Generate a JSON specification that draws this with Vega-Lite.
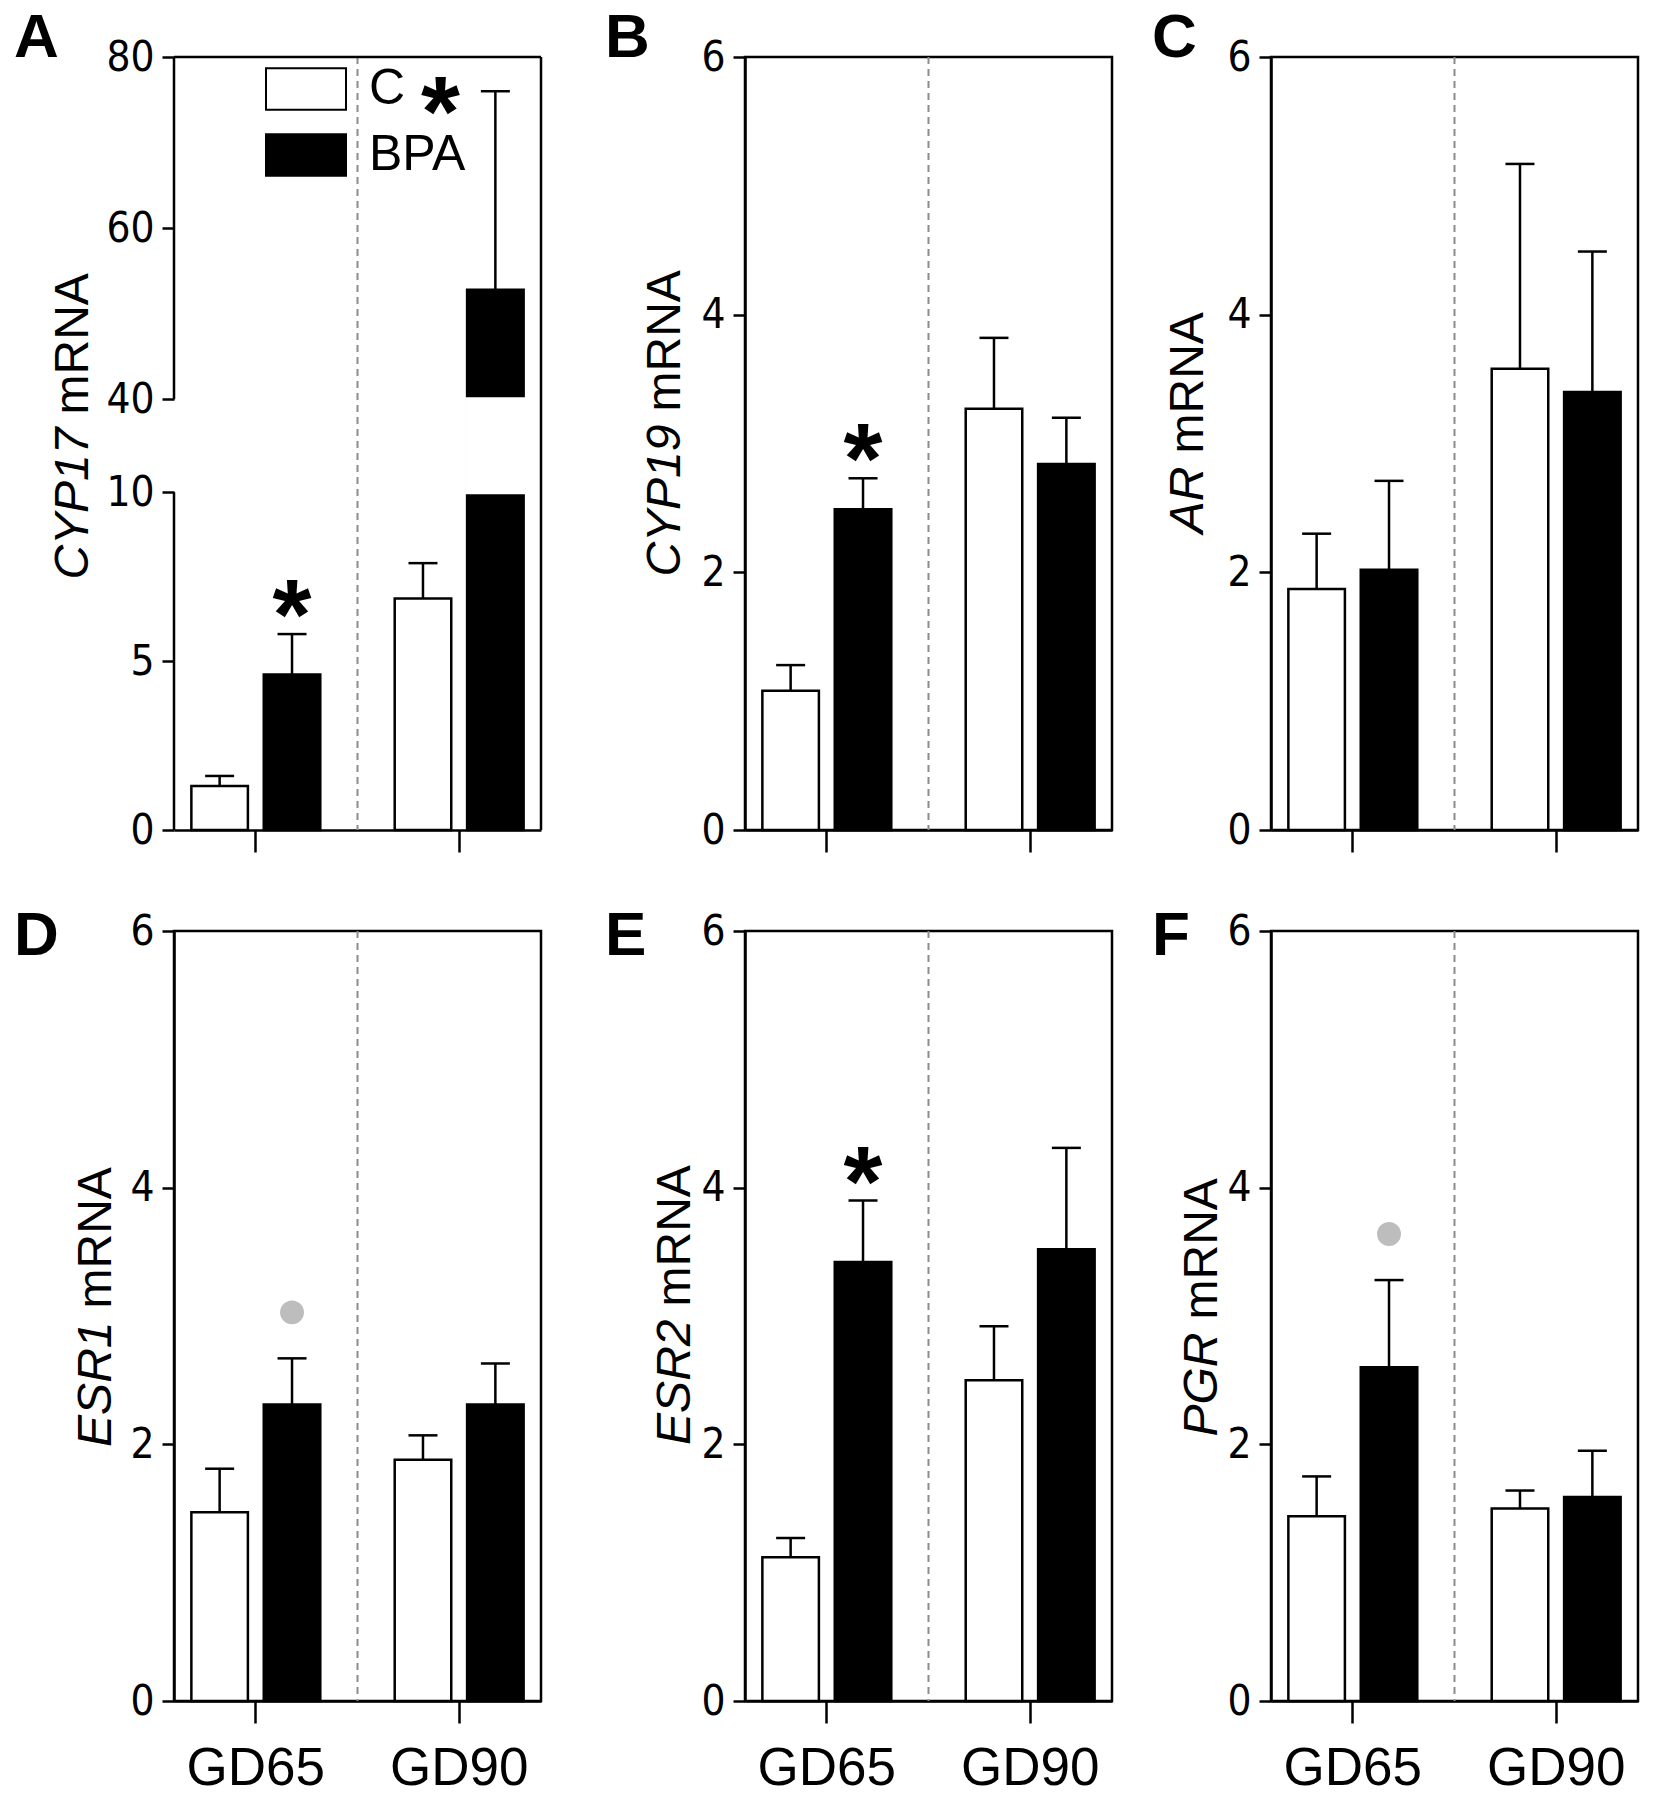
{
  "$schema": "https://vega.github.io/schema/vega-lite/v6.json",
  "background": "white",
  "padding": {"left": 12, "top": 5, "right": 0, "bottom": 0},
  "data": {"values": [
    {"panel": "A", "group": "GD65", "treatment": "C", "mean": 1.3, "upper": 1.6, "sig": ""},
    {"panel": "A", "group": "GD65", "treatment": "BPA", "mean": 4.6, "upper": 5.8, "sig": "*"},
    {"panel": "A", "group": "GD90", "treatment": "C", "mean": 6.85, "upper": 7.9, "sig": ""},
    {"panel": "A", "group": "GD90", "treatment": "BPA", "mean": 52.8, "upper": 76, "sig": "*"},
    {"panel": "B", "group": "GD65", "treatment": "C", "mean": 1.08, "upper": 1.28, "sig": ""},
    {"panel": "B", "group": "GD65", "treatment": "BPA", "mean": 2.49, "upper": 2.73, "sig": "*"},
    {"panel": "B", "group": "GD90", "treatment": "C", "mean": 3.27, "upper": 3.82, "sig": ""},
    {"panel": "B", "group": "GD90", "treatment": "BPA", "mean": 2.84, "upper": 3.2, "sig": ""},
    {"panel": "C", "group": "GD65", "treatment": "C", "mean": 1.87, "upper": 2.3, "sig": ""},
    {"panel": "C", "group": "GD65", "treatment": "BPA", "mean": 2.02, "upper": 2.71, "sig": ""},
    {"panel": "C", "group": "GD90", "treatment": "C", "mean": 3.58, "upper": 5.17, "sig": ""},
    {"panel": "C", "group": "GD90", "treatment": "BPA", "mean": 3.4, "upper": 4.49, "sig": ""},
    {"panel": "D", "group": "GD65", "treatment": "C", "mean": 1.47, "upper": 1.81, "sig": ""},
    {"panel": "D", "group": "GD65", "treatment": "BPA", "mean": 2.31, "upper": 2.67, "sig": "dot"},
    {"panel": "D", "group": "GD90", "treatment": "C", "mean": 1.88, "upper": 2.07, "sig": ""},
    {"panel": "D", "group": "GD90", "treatment": "BPA", "mean": 2.31, "upper": 2.63, "sig": ""},
    {"panel": "E", "group": "GD65", "treatment": "C", "mean": 1.12, "upper": 1.27, "sig": ""},
    {"panel": "E", "group": "GD65", "treatment": "BPA", "mean": 3.42, "upper": 3.9, "sig": "*"},
    {"panel": "E", "group": "GD90", "treatment": "C", "mean": 2.5, "upper": 2.92, "sig": ""},
    {"panel": "E", "group": "GD90", "treatment": "BPA", "mean": 3.52, "upper": 4.31, "sig": ""},
    {"panel": "F", "group": "GD65", "treatment": "C", "mean": 1.44, "upper": 1.75, "sig": ""},
    {"panel": "F", "group": "GD65", "treatment": "BPA", "mean": 2.6, "upper": 3.28, "sig": "dot"},
    {"panel": "F", "group": "GD90", "treatment": "C", "mean": 1.5, "upper": 1.64, "sig": ""},
    {"panel": "F", "group": "GD90", "treatment": "BPA", "mean": 1.59, "upper": 1.95, "sig": ""}
  ]},
  "config": {
    "view": {"stroke": "black", "strokeWidth": 2.5},
    "axis": {"grid": false, "domainColor": "black", "domainWidth": 2.5, "tickColor": "black", "tickWidth": 2.5, "labelColor": "black", "titleColor": "black", "titleFont": "Liberation Sans", "titleFontSize": 48, "titleFontWeight": "normal"},
    "axisY": {"tickSize": 12, "labelPadding": 8, "labelFont": "Liberation Sans Narrow, DejaVu Sans Condensed, Liberation Sans", "labelFontSize": 42},
    "axisX": {"tickSize": 22, "labelPadding": 19, "labelFont": "Liberation Sans", "labelFontSize": 53, "labelAngle": 0},
    "title": {"font": "Liberation Sans", "fontSize": 62, "fontWeight": "bold", "anchor": "start", "frame": "group", "color": "black", "offset": 0, "baseline": "alphabetic"}
  },
  "resolve": {"scale": {"fill": "independent"}, "legend": {"fill": "independent"}},
  "spacing": 60,
  "hconcat": [
    {
      "bounds": "flush",
      "spacing": 101,
      "resolve": {"scale": {"fill": "independent"}, "legend": {"fill": "independent"}},
      "vconcat": [
        {
          "width": 367, "height": 773,
          "title": {"text": "A", "dx": -160, "dy": 38},
          "view": {"stroke": null},
          "layer": [
            {"data": {"values": [{}]}, "mark": {"type": "rule", "color": "#8c8c8c", "strokeWidth": 2, "strokeDash": [7, 5]}, "encoding": {"x": {"datum": "GD65", "type": "nominal", "bandPosition": 1.2886, "scale": {"type": "band", "domain": ["GD65", "GD90"], "paddingInner": 0.366, "paddingOuter": 0.0854}, "axis": null}}},
            {"data": {"values": [{}]}, "mark": {"type": "rule", "color": "black", "strokeWidth": 2.5}, "encoding": {"x": {"datum": "GD90", "type": "nominal", "bandPosition": 1.1347, "scale": {"type": "band", "domain": ["GD65", "GD90"], "paddingInner": 0.366, "paddingOuter": 0.0854}, "axis": null}}},
            {"data": {"values": [{}]}, "mark": {"type": "rule", "color": "black", "strokeWidth": 2.5}, "encoding": {"x": {"datum": "GD65", "type": "nominal", "bandPosition": -0.1347, "scale": {"type": "band", "domain": ["GD65", "GD90"], "paddingInner": 0.366, "paddingOuter": 0.0854}, "axis": null}, "y": {"datum": 0, "type": "quantitative", "scale": {"type": "linear", "domain": [0, 10, 40, 80], "range": [773, 435.2, 342.3, 0], "nice": false, "zero": false}, "axis": null}, "y2": {"datum": 10}}},
            {"data": {"values": [{}]}, "mark": {"type": "rule", "color": "black", "strokeWidth": 2.5}, "encoding": {"x": {"datum": "GD65", "type": "nominal", "bandPosition": -0.1347, "scale": {"type": "band", "domain": ["GD65", "GD90"], "paddingInner": 0.366, "paddingOuter": 0.0854}, "axis": null}, "y": {"datum": 40, "type": "quantitative", "scale": {"type": "linear", "domain": [0, 10, 40, 80], "range": [773, 435.2, 342.3, 0], "nice": false, "zero": false}, "axis": null}, "y2": {"datum": 80}}},
            {"data": {"values": [{}]}, "mark": {"type": "rule", "color": "black", "strokeWidth": 2.5}, "encoding": {"y": {"datum": 80, "type": "quantitative", "scale": {"type": "linear", "domain": [0, 10, 40, 80], "range": [773, 435.2, 342.3, 0], "nice": false, "zero": false}, "axis": null}}},
            {"transform": [{"filter": "datum.panel === 'A'"}], "mark": {"type": "bar", "stroke": "black", "strokeWidth": 2.5},
             "encoding": {
               "x": {"field": "group", "type": "nominal", "scale": {"type": "band", "domain": ["GD65", "GD90"], "paddingInner": 0.366, "paddingOuter": 0.0854}, "axis": {"title": null, "labels": false}},
               "xOffset": {"field": "treatment", "type": "nominal", "scale": {"domain": ["C", "BPA"], "paddingInner": 0.219, "paddingOuter": 0}},
               "y": {"field": "mean", "type": "quantitative", "scale": {"type": "linear", "domain": [0, 10, 40, 80], "range": [773, 435.2, 342.3, 0], "nice": false, "zero": false}, "axis": null},
               "fill": {"field": "treatment", "type": "nominal", "scale": {"domain": ["C", "BPA"], "range": ["white", "black"]}, "legend": {"orient": "none", "legendX": 91, "legendY": -9, "title": null, "symbolType": "M-1,-0.52H1V0.52H-1Z", "symbolSize": 6400, "symbolStrokeColor": "black", "symbolStrokeWidth": 2, "labelFont": "Liberation Sans", "labelFontSize": 50, "labelColor": "black", "labelOffset": 22, "rowPadding": -17, "padding": 0}}
             }},
            {"transform": [{"filter": "datum.panel === 'A' && datum.mean > 10"}], "mark": {"type": "bar", "fill": "white", "stroke": "white", "strokeWidth": 4},
             "encoding": {
               "x": {"field": "group", "type": "nominal", "scale": {"type": "band", "domain": ["GD65", "GD90"], "paddingInner": 0.366, "paddingOuter": 0.0854}, "axis": null},
               "xOffset": {"field": "treatment", "type": "nominal", "scale": {"domain": ["C", "BPA"], "paddingInner": 0.219, "paddingOuter": 0}},
               "y": {"datum": 40, "type": "quantitative", "scale": {"type": "linear", "domain": [0, 10, 40, 80], "range": [773, 435.2, 342.3, 0], "nice": false, "zero": false}, "axis": null},
               "y2": {"datum": 10}
             }},
            {"transform": [{"filter": "datum.panel === 'A'"}], "mark": {"type": "rule", "color": "black", "strokeWidth": 2.5},
             "encoding": {
               "x": {"field": "group", "type": "nominal", "scale": {"type": "band", "domain": ["GD65", "GD90"], "paddingInner": 0.366, "paddingOuter": 0.0854}, "axis": null},
               "xOffset": {"field": "treatment", "type": "nominal", "scale": {"domain": ["C", "BPA"], "paddingInner": 0.219, "paddingOuter": 0}},
               "y": {"field": "mean", "type": "quantitative", "scale": {"type": "linear", "domain": [0, 10, 40, 80], "range": [773, 435.2, 342.3, 0], "nice": false, "zero": false}, "axis": null},
               "y2": {"field": "upper"}
             }},
            {"transform": [{"filter": "datum.panel === 'A'"}], "mark": {"type": "point", "shape": "M-1,0L1,0", "size": 841, "stroke": "black", "strokeWidth": 2.5, "filled": false, "opacity": 1},
             "encoding": {
               "x": {"field": "group", "type": "nominal", "scale": {"type": "band", "domain": ["GD65", "GD90"], "paddingInner": 0.366, "paddingOuter": 0.0854}, "axis": null},
               "xOffset": {"field": "treatment", "type": "nominal", "scale": {"domain": ["C", "BPA"], "paddingInner": 0.219, "paddingOuter": 0}},
               "y": {"field": "upper", "type": "quantitative", "scale": {"type": "linear", "domain": [0, 10, 40, 80], "range": [773, 435.2, 342.3, 0], "nice": false, "zero": false}, "axis": null}
             }},
            {"transform": [{"filter": "datum.panel === 'A' && datum.sig === '*' && datum.group === 'GD65'"}], "mark": {"type": "text", "text": "*", "font": "Liberation Sans", "fontWeight": "bold", "fontSize": 100, "baseline": "alphabetic", "align": "center", "dy": 15, "color": "black"},
             "encoding": {
               "x": {"field": "group", "type": "nominal", "scale": {"type": "band", "domain": ["GD65", "GD90"], "paddingInner": 0.366, "paddingOuter": 0.0854}, "axis": null},
               "xOffset": {"field": "treatment", "type": "nominal", "scale": {"domain": ["C", "BPA"], "paddingInner": 0.219, "paddingOuter": 0}},
               "y": {"field": "upper", "type": "quantitative", "scale": {"type": "linear", "domain": [0, 10, 40, 80], "range": [773, 435.2, 342.3, 0], "nice": false, "zero": false}, "axis": null}
             }},
            {"transform": [{"filter": "datum.panel === 'A' && datum.sig === '*' && datum.group === 'GD90'"}], "mark": {"type": "text", "text": "*", "font": "Liberation Sans", "fontWeight": "bold", "fontSize": 100, "baseline": "alphabetic", "align": "center", "dy": 55, "dx": -55, "color": "black"},
             "encoding": {
               "x": {"field": "group", "type": "nominal", "scale": {"type": "band", "domain": ["GD65", "GD90"], "paddingInner": 0.366, "paddingOuter": 0.0854}, "axis": null},
               "xOffset": {"field": "treatment", "type": "nominal", "scale": {"domain": ["C", "BPA"], "paddingInner": 0.219, "paddingOuter": 0}},
               "y": {"field": "upper", "type": "quantitative", "scale": {"type": "linear", "domain": [0, 10, 40, 80], "range": [773, 435.2, 342.3, 0], "nice": false, "zero": false}, "axis": null}
             }},
            {"data": {"values": [{}]}, "mark": {"type": "point", "opacity": 0}, "encoding": {"x": {"datum": "GD65", "type": "nominal", "scale": {"type": "band", "domain": ["GD65", "GD90"], "paddingInner": 0.366, "paddingOuter": 0.0854}, "axis": null}, "y": {"datum": 0, "type": "quantitative", "scale": {"type": "linear", "domain": [0, 10, 40, 80], "range": [773, 435.2, 342.3, 0], "nice": false, "zero": false}, "axis": {"orient": "left", "values": [0, 5, 10, 40, 60, 80], "domain": false, "title": "CYP17", "titleFontStyle": "italic", "titleAngle": 270, "titleAlign": "right", "titleBaseline": "alphabetic", "titleX": -87, "titleY": 370}}}},
            {"data": {"values": [{}]}, "mark": {"type": "point", "opacity": 0}, "encoding": {"x": {"datum": "GD65", "type": "nominal", "scale": {"type": "band", "domain": ["GD65", "GD90"], "paddingInner": 0.366, "paddingOuter": 0.0854}, "axis": null}, "y": {"datum": 0, "type": "quantitative", "scale": {"type": "linear", "domain": [0, 10, 40, 80], "range": [773, 435.2, 342.3, 0], "nice": false, "zero": false}, "axis": {"orient": "right", "labels": false, "ticks": false, "domain": false, "title": "mRNA", "titleFontStyle": "normal", "titleAngle": 270, "titleAlign": "left", "titleBaseline": "alphabetic", "titleX": -454, "titleY": 357}}}}
          ],
          "resolve": {"axis": {"x": "independent", "y": "independent"}}
        },
        {
          "width": 367, "height": 770,
          "title": {"text": "D", "dx": -160, "dy": 62},
          "layer": [
            {"data": {"values": [{}]}, "mark": {"type": "rule", "color": "#8c8c8c", "strokeWidth": 2, "strokeDash": [7, 5]}, "encoding": {"x": {"datum": "GD65", "type": "nominal", "bandPosition": 1.2886, "scale": {"type": "band", "domain": ["GD65", "GD90"], "paddingInner": 0.366, "paddingOuter": 0.0854}, "axis": null}}},
            {"transform": [{"filter": "datum.panel === 'D'"}], "mark": {"type": "bar", "stroke": "black", "strokeWidth": 2.5},
             "encoding": {
               "x": {"field": "group", "type": "nominal", "scale": {"type": "band", "domain": ["GD65", "GD90"], "paddingInner": 0.366, "paddingOuter": 0.0854}, "axis": {"title": null, "labels": true}},
               "xOffset": {"field": "treatment", "type": "nominal", "scale": {"domain": ["C", "BPA"], "paddingInner": 0.219, "paddingOuter": 0}},
               "y": {"field": "mean", "type": "quantitative", "scale": {"domain": [0, 6], "nice": false, "zero": true}, "axis": null},
               "fill": {"field": "treatment", "type": "nominal", "scale": {"domain": ["C", "BPA"], "range": ["white", "black"]}, "legend": null}
             }},
            {"transform": [{"filter": "datum.panel === 'D'"}], "mark": {"type": "rule", "color": "black", "strokeWidth": 2.5},
             "encoding": {
               "x": {"field": "group", "type": "nominal", "scale": {"type": "band", "domain": ["GD65", "GD90"], "paddingInner": 0.366, "paddingOuter": 0.0854}, "axis": null},
               "xOffset": {"field": "treatment", "type": "nominal", "scale": {"domain": ["C", "BPA"], "paddingInner": 0.219, "paddingOuter": 0}},
               "y": {"field": "mean", "type": "quantitative", "scale": {"domain": [0, 6], "nice": false, "zero": true}, "axis": null},
               "y2": {"field": "upper"}
             }},
            {"transform": [{"filter": "datum.panel === 'D'"}], "mark": {"type": "point", "shape": "M-1,0L1,0", "size": 841, "stroke": "black", "strokeWidth": 2.5, "filled": false, "opacity": 1},
             "encoding": {
               "x": {"field": "group", "type": "nominal", "scale": {"type": "band", "domain": ["GD65", "GD90"], "paddingInner": 0.366, "paddingOuter": 0.0854}, "axis": null},
               "xOffset": {"field": "treatment", "type": "nominal", "scale": {"domain": ["C", "BPA"], "paddingInner": 0.219, "paddingOuter": 0}},
               "y": {"field": "upper", "type": "quantitative", "scale": {"domain": [0, 6], "nice": false, "zero": true}, "axis": null}
             }},
            {"transform": [{"filter": "datum.panel === 'D' && datum.sig === 'dot'"}], "mark": {"type": "point", "shape": "circle", "filled": true, "color": "#bdbdbd", "size": 573, "opacity": 1, "yOffset": -46},
             "encoding": {
               "x": {"field": "group", "type": "nominal", "scale": {"type": "band", "domain": ["GD65", "GD90"], "paddingInner": 0.366, "paddingOuter": 0.0854}, "axis": null},
               "xOffset": {"field": "treatment", "type": "nominal", "scale": {"domain": ["C", "BPA"], "paddingInner": 0.219, "paddingOuter": 0}},
               "y": {"field": "upper", "type": "quantitative", "scale": {"domain": [0, 6], "nice": false, "zero": true}, "axis": null}
             }},
            {"data": {"values": [{}]}, "mark": {"type": "point", "opacity": 0}, "encoding": {"x": {"datum": "GD65", "type": "nominal", "scale": {"type": "band", "domain": ["GD65", "GD90"], "paddingInner": 0.366, "paddingOuter": 0.0854}, "axis": null}, "y": {"datum": 0, "type": "quantitative", "scale": {"domain": [0, 6], "nice": false, "zero": true}, "axis": {"orient": "left", "values": [0, 2, 4, 6], "title": "ESR1", "titleFontStyle": "italic", "titleAngle": 270, "titleAlign": "right", "titleBaseline": "alphabetic", "titleX": -64, "titleY": 390}}}},
            {"data": {"values": [{}]}, "mark": {"type": "point", "opacity": 0}, "encoding": {"x": {"datum": "GD65", "type": "nominal", "scale": {"type": "band", "domain": ["GD65", "GD90"], "paddingInner": 0.366, "paddingOuter": 0.0854}, "axis": null}, "y": {"datum": 0, "type": "quantitative", "scale": {"domain": [0, 6], "nice": false, "zero": true}, "axis": {"orient": "right", "labels": false, "ticks": false, "domain": false, "title": "mRNA", "titleFontStyle": "normal", "titleAngle": 270, "titleAlign": "left", "titleBaseline": "alphabetic", "titleX": -431, "titleY": 377}}}}
          ],
          "resolve": {"axis": {"x": "independent", "y": "independent"}}
        }
      ]
    },
    {
      "spacing": 36,
      "resolve": {"scale": {"fill": "independent"}, "legend": {"fill": "independent"}},
      "hconcat": [
        {
          "bounds": "flush",
          "spacing": 101,
          "resolve": {"scale": {"fill": "independent"}, "legend": {"fill": "independent"}},
          "vconcat": [
            {
              "width": 367, "height": 773,
              "title": {"text": "B", "dx": -140, "dy": 38},
              "layer": [
                {"data": {"values": [{}]}, "mark": {"type": "rule", "color": "#8c8c8c", "strokeWidth": 2, "strokeDash": [7, 5]}, "encoding": {"x": {"datum": "GD65", "type": "nominal", "bandPosition": 1.2886, "scale": {"type": "band", "domain": ["GD65", "GD90"], "paddingInner": 0.366, "paddingOuter": 0.0854}, "axis": null}}},
                {"transform": [{"filter": "datum.panel === 'B'"}], "mark": {"type": "bar", "stroke": "black", "strokeWidth": 2.5},
                 "encoding": {
                   "x": {"field": "group", "type": "nominal", "scale": {"type": "band", "domain": ["GD65", "GD90"], "paddingInner": 0.366, "paddingOuter": 0.0854}, "axis": {"title": null, "labels": false}},
                   "xOffset": {"field": "treatment", "type": "nominal", "scale": {"domain": ["C", "BPA"], "paddingInner": 0.219, "paddingOuter": 0}},
                   "y": {"field": "mean", "type": "quantitative", "scale": {"domain": [0, 6], "nice": false, "zero": true}, "axis": null},
                   "fill": {"field": "treatment", "type": "nominal", "scale": {"domain": ["C", "BPA"], "range": ["white", "black"]}, "legend": null}
                 }},
                {"transform": [{"filter": "datum.panel === 'B'"}], "mark": {"type": "rule", "color": "black", "strokeWidth": 2.5},
                 "encoding": {
                   "x": {"field": "group", "type": "nominal", "scale": {"type": "band", "domain": ["GD65", "GD90"], "paddingInner": 0.366, "paddingOuter": 0.0854}, "axis": null},
                   "xOffset": {"field": "treatment", "type": "nominal", "scale": {"domain": ["C", "BPA"], "paddingInner": 0.219, "paddingOuter": 0}},
                   "y": {"field": "mean", "type": "quantitative", "scale": {"domain": [0, 6], "nice": false, "zero": true}, "axis": null},
                   "y2": {"field": "upper"}
                 }},
                {"transform": [{"filter": "datum.panel === 'B'"}], "mark": {"type": "point", "shape": "M-1,0L1,0", "size": 841, "stroke": "black", "strokeWidth": 2.5, "filled": false, "opacity": 1},
                 "encoding": {
                   "x": {"field": "group", "type": "nominal", "scale": {"type": "band", "domain": ["GD65", "GD90"], "paddingInner": 0.366, "paddingOuter": 0.0854}, "axis": null},
                   "xOffset": {"field": "treatment", "type": "nominal", "scale": {"domain": ["C", "BPA"], "paddingInner": 0.219, "paddingOuter": 0}},
                   "y": {"field": "upper", "type": "quantitative", "scale": {"domain": [0, 6], "nice": false, "zero": true}, "axis": null}
                 }},
                {"transform": [{"filter": "datum.panel === 'B' && datum.sig === '*'"}], "mark": {"type": "text", "text": "*", "font": "Liberation Sans", "fontWeight": "bold", "fontSize": 100, "baseline": "alphabetic", "align": "center", "dy": 15, "color": "black"},
                 "encoding": {
                   "x": {"field": "group", "type": "nominal", "scale": {"type": "band", "domain": ["GD65", "GD90"], "paddingInner": 0.366, "paddingOuter": 0.0854}, "axis": null},
                   "xOffset": {"field": "treatment", "type": "nominal", "scale": {"domain": ["C", "BPA"], "paddingInner": 0.219, "paddingOuter": 0}},
                   "y": {"field": "upper", "type": "quantitative", "scale": {"domain": [0, 6], "nice": false, "zero": true}, "axis": null}
                 }},
                {"data": {"values": [{}]}, "mark": {"type": "point", "opacity": 0}, "encoding": {"x": {"datum": "GD65", "type": "nominal", "scale": {"type": "band", "domain": ["GD65", "GD90"], "paddingInner": 0.366, "paddingOuter": 0.0854}, "axis": null}, "y": {"datum": 0, "type": "quantitative", "scale": {"domain": [0, 6], "nice": false, "zero": true}, "axis": {"orient": "left", "values": [0, 2, 4, 6], "title": "CYP19", "titleFontStyle": "italic", "titleAngle": 270, "titleAlign": "right", "titleBaseline": "alphabetic", "titleX": -66, "titleY": 367}}}},
                {"data": {"values": [{}]}, "mark": {"type": "point", "opacity": 0}, "encoding": {"x": {"datum": "GD65", "type": "nominal", "scale": {"type": "band", "domain": ["GD65", "GD90"], "paddingInner": 0.366, "paddingOuter": 0.0854}, "axis": null}, "y": {"datum": 0, "type": "quantitative", "scale": {"domain": [0, 6], "nice": false, "zero": true}, "axis": {"orient": "right", "labels": false, "ticks": false, "domain": false, "title": "mRNA", "titleFontStyle": "normal", "titleAngle": 270, "titleAlign": "left", "titleBaseline": "alphabetic", "titleX": -433, "titleY": 354}}}}
              ],
              "resolve": {"axis": {"x": "independent", "y": "independent"}}
            },
            {
              "width": 367, "height": 770,
              "title": {"text": "E", "dx": -140, "dy": 62},
              "layer": [
                {"data": {"values": [{}]}, "mark": {"type": "rule", "color": "#8c8c8c", "strokeWidth": 2, "strokeDash": [7, 5]}, "encoding": {"x": {"datum": "GD65", "type": "nominal", "bandPosition": 1.2886, "scale": {"type": "band", "domain": ["GD65", "GD90"], "paddingInner": 0.366, "paddingOuter": 0.0854}, "axis": null}}},
                {"transform": [{"filter": "datum.panel === 'E'"}], "mark": {"type": "bar", "stroke": "black", "strokeWidth": 2.5},
                 "encoding": {
                   "x": {"field": "group", "type": "nominal", "scale": {"type": "band", "domain": ["GD65", "GD90"], "paddingInner": 0.366, "paddingOuter": 0.0854}, "axis": {"title": null, "labels": true}},
                   "xOffset": {"field": "treatment", "type": "nominal", "scale": {"domain": ["C", "BPA"], "paddingInner": 0.219, "paddingOuter": 0}},
                   "y": {"field": "mean", "type": "quantitative", "scale": {"domain": [0, 6], "nice": false, "zero": true}, "axis": null},
                   "fill": {"field": "treatment", "type": "nominal", "scale": {"domain": ["C", "BPA"], "range": ["white", "black"]}, "legend": null}
                 }},
                {"transform": [{"filter": "datum.panel === 'E'"}], "mark": {"type": "rule", "color": "black", "strokeWidth": 2.5},
                 "encoding": {
                   "x": {"field": "group", "type": "nominal", "scale": {"type": "band", "domain": ["GD65", "GD90"], "paddingInner": 0.366, "paddingOuter": 0.0854}, "axis": null},
                   "xOffset": {"field": "treatment", "type": "nominal", "scale": {"domain": ["C", "BPA"], "paddingInner": 0.219, "paddingOuter": 0}},
                   "y": {"field": "mean", "type": "quantitative", "scale": {"domain": [0, 6], "nice": false, "zero": true}, "axis": null},
                   "y2": {"field": "upper"}
                 }},
                {"transform": [{"filter": "datum.panel === 'E'"}], "mark": {"type": "point", "shape": "M-1,0L1,0", "size": 841, "stroke": "black", "strokeWidth": 2.5, "filled": false, "opacity": 1},
                 "encoding": {
                   "x": {"field": "group", "type": "nominal", "scale": {"type": "band", "domain": ["GD65", "GD90"], "paddingInner": 0.366, "paddingOuter": 0.0854}, "axis": null},
                   "xOffset": {"field": "treatment", "type": "nominal", "scale": {"domain": ["C", "BPA"], "paddingInner": 0.219, "paddingOuter": 0}},
                   "y": {"field": "upper", "type": "quantitative", "scale": {"domain": [0, 6], "nice": false, "zero": true}, "axis": null}
                 }},
                {"transform": [{"filter": "datum.panel === 'E' && datum.sig === '*'"}], "mark": {"type": "text", "text": "*", "font": "Liberation Sans", "fontWeight": "bold", "fontSize": 100, "baseline": "alphabetic", "align": "center", "dy": 15, "color": "black"},
                 "encoding": {
                   "x": {"field": "group", "type": "nominal", "scale": {"type": "band", "domain": ["GD65", "GD90"], "paddingInner": 0.366, "paddingOuter": 0.0854}, "axis": null},
                   "xOffset": {"field": "treatment", "type": "nominal", "scale": {"domain": ["C", "BPA"], "paddingInner": 0.219, "paddingOuter": 0}},
                   "y": {"field": "upper", "type": "quantitative", "scale": {"domain": [0, 6], "nice": false, "zero": true}, "axis": null}
                 }},
                {"data": {"values": [{}]}, "mark": {"type": "point", "opacity": 0}, "encoding": {"x": {"datum": "GD65", "type": "nominal", "scale": {"type": "band", "domain": ["GD65", "GD90"], "paddingInner": 0.366, "paddingOuter": 0.0854}, "axis": null}, "y": {"datum": 0, "type": "quantitative", "scale": {"domain": [0, 6], "nice": false, "zero": true}, "axis": {"orient": "left", "values": [0, 2, 4, 6], "title": "ESR2", "titleFontStyle": "italic", "titleAngle": 270, "titleAlign": "right", "titleBaseline": "alphabetic", "titleX": -56, "titleY": 388}}}},
                {"data": {"values": [{}]}, "mark": {"type": "point", "opacity": 0}, "encoding": {"x": {"datum": "GD65", "type": "nominal", "scale": {"type": "band", "domain": ["GD65", "GD90"], "paddingInner": 0.366, "paddingOuter": 0.0854}, "axis": null}, "y": {"datum": 0, "type": "quantitative", "scale": {"domain": [0, 6], "nice": false, "zero": true}, "axis": {"orient": "right", "labels": false, "ticks": false, "domain": false, "title": "mRNA", "titleFontStyle": "normal", "titleAngle": 270, "titleAlign": "left", "titleBaseline": "alphabetic", "titleX": -423, "titleY": 375}}}}
              ],
              "resolve": {"axis": {"x": "independent", "y": "independent"}}
            }
          ]
        },
        {
          "bounds": "flush",
          "spacing": 101,
          "resolve": {"scale": {"fill": "independent"}, "legend": {"fill": "independent"}},
          "vconcat": [
            {
              "width": 367, "height": 773,
              "title": {"text": "C", "dx": -119, "dy": 38},
              "layer": [
                {"data": {"values": [{}]}, "mark": {"type": "rule", "color": "#8c8c8c", "strokeWidth": 2, "strokeDash": [7, 5]}, "encoding": {"x": {"datum": "GD65", "type": "nominal", "bandPosition": 1.2886, "scale": {"type": "band", "domain": ["GD65", "GD90"], "paddingInner": 0.366, "paddingOuter": 0.0854}, "axis": null}}},
                {"transform": [{"filter": "datum.panel === 'C'"}], "mark": {"type": "bar", "stroke": "black", "strokeWidth": 2.5},
                 "encoding": {
                   "x": {"field": "group", "type": "nominal", "scale": {"type": "band", "domain": ["GD65", "GD90"], "paddingInner": 0.366, "paddingOuter": 0.0854}, "axis": {"title": null, "labels": false}},
                   "xOffset": {"field": "treatment", "type": "nominal", "scale": {"domain": ["C", "BPA"], "paddingInner": 0.219, "paddingOuter": 0}},
                   "y": {"field": "mean", "type": "quantitative", "scale": {"domain": [0, 6], "nice": false, "zero": true}, "axis": null},
                   "fill": {"field": "treatment", "type": "nominal", "scale": {"domain": ["C", "BPA"], "range": ["white", "black"]}, "legend": null}
                 }},
                {"transform": [{"filter": "datum.panel === 'C'"}], "mark": {"type": "rule", "color": "black", "strokeWidth": 2.5},
                 "encoding": {
                   "x": {"field": "group", "type": "nominal", "scale": {"type": "band", "domain": ["GD65", "GD90"], "paddingInner": 0.366, "paddingOuter": 0.0854}, "axis": null},
                   "xOffset": {"field": "treatment", "type": "nominal", "scale": {"domain": ["C", "BPA"], "paddingInner": 0.219, "paddingOuter": 0}},
                   "y": {"field": "mean", "type": "quantitative", "scale": {"domain": [0, 6], "nice": false, "zero": true}, "axis": null},
                   "y2": {"field": "upper"}
                 }},
                {"transform": [{"filter": "datum.panel === 'C'"}], "mark": {"type": "point", "shape": "M-1,0L1,0", "size": 841, "stroke": "black", "strokeWidth": 2.5, "filled": false, "opacity": 1},
                 "encoding": {
                   "x": {"field": "group", "type": "nominal", "scale": {"type": "band", "domain": ["GD65", "GD90"], "paddingInner": 0.366, "paddingOuter": 0.0854}, "axis": null},
                   "xOffset": {"field": "treatment", "type": "nominal", "scale": {"domain": ["C", "BPA"], "paddingInner": 0.219, "paddingOuter": 0}},
                   "y": {"field": "upper", "type": "quantitative", "scale": {"domain": [0, 6], "nice": false, "zero": true}, "axis": null}
                 }},
                {"data": {"values": [{}]}, "mark": {"type": "point", "opacity": 0}, "encoding": {"x": {"datum": "GD65", "type": "nominal", "scale": {"type": "band", "domain": ["GD65", "GD90"], "paddingInner": 0.366, "paddingOuter": 0.0854}, "axis": null}, "y": {"datum": 0, "type": "quantitative", "scale": {"domain": [0, 6], "nice": false, "zero": true}, "axis": {"orient": "left", "values": [0, 2, 4, 6], "title": "AR", "titleFontStyle": "italic", "titleAngle": 270, "titleAlign": "right", "titleBaseline": "alphabetic", "titleX": -69, "titleY": 409}}}},
                {"data": {"values": [{}]}, "mark": {"type": "point", "opacity": 0}, "encoding": {"x": {"datum": "GD65", "type": "nominal", "scale": {"type": "band", "domain": ["GD65", "GD90"], "paddingInner": 0.366, "paddingOuter": 0.0854}, "axis": null}, "y": {"datum": 0, "type": "quantitative", "scale": {"domain": [0, 6], "nice": false, "zero": true}, "axis": {"orient": "right", "labels": false, "ticks": false, "domain": false, "title": "mRNA", "titleFontStyle": "normal", "titleAngle": 270, "titleAlign": "left", "titleBaseline": "alphabetic", "titleX": -436, "titleY": 396}}}}
              ],
              "resolve": {"axis": {"x": "independent", "y": "independent"}}
            },
            {
              "width": 367, "height": 770,
              "title": {"text": "F", "dx": -119, "dy": 62},
              "layer": [
                {"data": {"values": [{}]}, "mark": {"type": "rule", "color": "#8c8c8c", "strokeWidth": 2, "strokeDash": [7, 5]}, "encoding": {"x": {"datum": "GD65", "type": "nominal", "bandPosition": 1.2886, "scale": {"type": "band", "domain": ["GD65", "GD90"], "paddingInner": 0.366, "paddingOuter": 0.0854}, "axis": null}}},
                {"transform": [{"filter": "datum.panel === 'F'"}], "mark": {"type": "bar", "stroke": "black", "strokeWidth": 2.5},
                 "encoding": {
                   "x": {"field": "group", "type": "nominal", "scale": {"type": "band", "domain": ["GD65", "GD90"], "paddingInner": 0.366, "paddingOuter": 0.0854}, "axis": {"title": null, "labels": true}},
                   "xOffset": {"field": "treatment", "type": "nominal", "scale": {"domain": ["C", "BPA"], "paddingInner": 0.219, "paddingOuter": 0}},
                   "y": {"field": "mean", "type": "quantitative", "scale": {"domain": [0, 6], "nice": false, "zero": true}, "axis": null},
                   "fill": {"field": "treatment", "type": "nominal", "scale": {"domain": ["C", "BPA"], "range": ["white", "black"]}, "legend": null}
                 }},
                {"transform": [{"filter": "datum.panel === 'F'"}], "mark": {"type": "rule", "color": "black", "strokeWidth": 2.5},
                 "encoding": {
                   "x": {"field": "group", "type": "nominal", "scale": {"type": "band", "domain": ["GD65", "GD90"], "paddingInner": 0.366, "paddingOuter": 0.0854}, "axis": null},
                   "xOffset": {"field": "treatment", "type": "nominal", "scale": {"domain": ["C", "BPA"], "paddingInner": 0.219, "paddingOuter": 0}},
                   "y": {"field": "mean", "type": "quantitative", "scale": {"domain": [0, 6], "nice": false, "zero": true}, "axis": null},
                   "y2": {"field": "upper"}
                 }},
                {"transform": [{"filter": "datum.panel === 'F'"}], "mark": {"type": "point", "shape": "M-1,0L1,0", "size": 841, "stroke": "black", "strokeWidth": 2.5, "filled": false, "opacity": 1},
                 "encoding": {
                   "x": {"field": "group", "type": "nominal", "scale": {"type": "band", "domain": ["GD65", "GD90"], "paddingInner": 0.366, "paddingOuter": 0.0854}, "axis": null},
                   "xOffset": {"field": "treatment", "type": "nominal", "scale": {"domain": ["C", "BPA"], "paddingInner": 0.219, "paddingOuter": 0}},
                   "y": {"field": "upper", "type": "quantitative", "scale": {"domain": [0, 6], "nice": false, "zero": true}, "axis": null}
                 }},
                {"transform": [{"filter": "datum.panel === 'F' && datum.sig === 'dot'"}], "mark": {"type": "point", "shape": "circle", "filled": true, "color": "#bdbdbd", "size": 573, "opacity": 1, "yOffset": -46},
                 "encoding": {
                   "x": {"field": "group", "type": "nominal", "scale": {"type": "band", "domain": ["GD65", "GD90"], "paddingInner": 0.366, "paddingOuter": 0.0854}, "axis": null},
                   "xOffset": {"field": "treatment", "type": "nominal", "scale": {"domain": ["C", "BPA"], "paddingInner": 0.219, "paddingOuter": 0}},
                   "y": {"field": "upper", "type": "quantitative", "scale": {"domain": [0, 6], "nice": false, "zero": true}, "axis": null}
                 }},
                {"data": {"values": [{}]}, "mark": {"type": "point", "opacity": 0}, "encoding": {"x": {"datum": "GD65", "type": "nominal", "scale": {"type": "band", "domain": ["GD65", "GD90"], "paddingInner": 0.366, "paddingOuter": 0.0854}, "axis": null}, "y": {"datum": 0, "type": "quantitative", "scale": {"domain": [0, 6], "nice": false, "zero": true}, "axis": {"orient": "left", "values": [0, 2, 4, 6], "title": "PGR", "titleFontStyle": "italic", "titleAngle": 270, "titleAlign": "right", "titleBaseline": "alphabetic", "titleX": -55, "titleY": 401}}}},
                {"data": {"values": [{}]}, "mark": {"type": "point", "opacity": 0}, "encoding": {"x": {"datum": "GD65", "type": "nominal", "scale": {"type": "band", "domain": ["GD65", "GD90"], "paddingInner": 0.366, "paddingOuter": 0.0854}, "axis": null}, "y": {"datum": 0, "type": "quantitative", "scale": {"domain": [0, 6], "nice": false, "zero": true}, "axis": {"orient": "right", "labels": false, "ticks": false, "domain": false, "title": "mRNA", "titleFontStyle": "normal", "titleAngle": 270, "titleAlign": "left", "titleBaseline": "alphabetic", "titleX": -422, "titleY": 388}}}}
              ],
              "resolve": {"axis": {"x": "independent", "y": "independent"}}
            }
          ]
        }
      ]
    }
  ]
}
